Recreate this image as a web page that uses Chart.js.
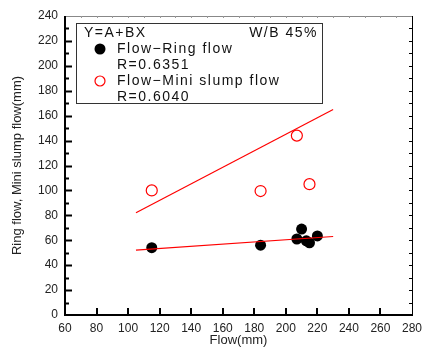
<!DOCTYPE html>
<html>
<head>
<meta charset="utf-8">
<script src="https://cdn.jsdelivr.net/npm/chart.js@4.4.1/dist/chart.umd.min.js"></script>
<style>
  html, body { margin: 0; padding: 0; background: #fff; }
  #wrap { width: 422px; height: 354px; }
</style>
</head>
<body>
<div id="wrap"><canvas id="flowChart" width="422" height="354"></canvas></div>
<script>
// Data
const ringFlowX = [115, 184, 207, 210, 213, 215, 220];
const ringFlowY = [54, 56, 61, 69, 59.5, 58, 63.5];
const miniSlumpX = [115, 184, 207, 215];
const miniSlumpY = [100, 99.5, 144, 105];
const fitX = [105, 230];
const fitRing = [52, 63];
const fitMini = [82, 165];
const xTicks = [60, 80, 100, 120, 140, 160, 180, 200, 220, 240, 260, 280];
const yTicks = [0, 20, 40, 60, 80, 100, 120, 140, 160, 180, 200, 220, 240];

const toPts = (xs, ys) => xs.map((x, i) => ({ x: x, y: ys[i] }));
const FONT = '"Liberation Sans", Arial, sans-serif';

// Frame, inward ticks and the boxed legend
const framePlugin = {
    id: 'frame',
    afterDatasetsDraw(chart) {
        const { ctx, chartArea: a, scales: { x, y } } = chart;
        ctx.save();
        ctx.lineCap = 'butt';

        // top + right border
        ctx.strokeStyle = '#888';
        ctx.lineWidth = 1;
        ctx.beginPath();
        ctx.moveTo(a.left, a.top + 0.5);
        ctx.lineTo(a.right, a.top + 0.5);
        ctx.stroke();
        ctx.strokeStyle = '#000';
        ctx.beginPath();
        ctx.moveTo(a.right + 0.5, a.top);
        ctx.lineTo(a.right + 0.5, a.bottom);
        ctx.stroke();

        // small ticks on top and right
        ctx.strokeStyle = '#999';
        for (let v = 70; v < 280; v += 10) {
            const px = Math.round(x.getPixelForValue(v)) + 0.5;
            ctx.beginPath();
            ctx.moveTo(px, a.top);
            ctx.lineTo(px, a.top + 2);
            ctx.stroke();
        }
        ctx.strokeStyle = '#000';
        for (let v = 10; v < 240; v += 10) {
            const py = Math.round(y.getPixelForValue(v)) + 0.5;
            ctx.beginPath();
            ctx.moveTo(a.right, py);
            ctx.lineTo(a.right - 3, py);
            ctx.stroke();
        }

        // left + bottom axes
        ctx.lineWidth = 2;
        ctx.beginPath();
        ctx.moveTo(a.left, a.top);
        ctx.lineTo(a.left, a.bottom);
        ctx.lineTo(a.right + 1, a.bottom);
        ctx.stroke();

        // inward ticks
        for (let v = 10; v < 240; v += 10) {
            const py = Math.round(y.getPixelForValue(v)) + 0.5;
            const len = v % 20 === 0 ? 7 : 4;
            ctx.beginPath();
            ctx.moveTo(a.left, py);
            ctx.lineTo(a.left + len, py);
            ctx.stroke();
        }
        xTicks.slice(1, -1).forEach(v => {
            const px = Math.round(x.getPixelForValue(v));
            ctx.beginPath();
            ctx.moveTo(px, a.bottom);
            ctx.lineTo(px, a.bottom - 7);
            ctx.stroke();
        });

        // legend box
        ctx.lineWidth = 1;
        ctx.strokeStyle = '#333';
        ctx.strokeRect(76.5, 23.5, 246, 80);
        ctx.fillStyle = '#111';
        ctx.font = '14px ' + FONT;
        ctx.letterSpacing = '1.5px';
        ctx.textBaseline = 'middle';
        ctx.textAlign = 'left';
        ctx.fillText('Y=A+BX', 84, 33);
        ctx.textAlign = 'right';
        ctx.fillText('W/B 45%', 318, 33);
        ctx.textAlign = 'left';
        ctx.fillText('Flow\u2212Ring flow', 117, 49);
        ctx.fillText('R=0.6351', 117, 65);
        ctx.fillText('Flow\u2212Mini slump flow', 117, 81);
        ctx.fillText('R=0.6040', 117, 97);
        ctx.letterSpacing = '0px';

        ctx.beginPath();
        ctx.arc(100, 49, 5.5, 0, Math.PI * 2);
        ctx.fillStyle = '#000';
        ctx.fill();
        ctx.beginPath();
        ctx.arc(100, 81, 5, 0, Math.PI * 2);
        ctx.strokeStyle = '#f00';
        ctx.lineWidth = 1.2;
        ctx.stroke();
        ctx.restore();
    }
};

new Chart(document.getElementById('flowChart'), {
    type: 'scatter',
    data: {
        datasets: [
            {
                label: 'fit ring',
                data: toPts(fitX, fitRing),
                showLine: true,
                borderColor: '#f00',
                borderWidth: 1.2,
                pointRadius: 0
            },
            {
                label: 'fit mini',
                data: toPts(fitX, fitMini),
                showLine: true,
                borderColor: '#f00',
                borderWidth: 1.2,
                pointRadius: 0
            },
            {
                label: 'Flow-Ring flow',
                data: toPts(ringFlowX, ringFlowY),
                backgroundColor: '#000',
                borderColor: '#000',
                borderWidth: 0,
                pointRadius: 5.5
            },
            {
                label: 'Flow-Mini slump flow',
                data: toPts(miniSlumpX, miniSlumpY),
                backgroundColor: 'rgba(255,255,255,0)',
                borderColor: '#f00',
                borderWidth: 1.2,
                pointRadius: 5.5
            }
        ]
    },
    options: {
        responsive: false,
        animation: false,
        layout: { padding: { left: 0, right: 10, top: 16, bottom: 0 } },
        plugins: { legend: { display: false }, tooltip: { enabled: false } },
        scales: {
            x: {
                type: 'linear',
                min: 60, max: 280,
                afterBuildTicks: s => { s.ticks = xTicks.map(v => ({ value: v })); },
                afterFit: s => { s.height = 39; s.paddingLeft = 0; s.paddingRight = 0; },
                grid: { display: false, drawTicks: false },
                border: { display: false },
                ticks: { color: '#222', padding: 6, font: { family: FONT, size: 12 } },
                title: {
                    display: true, text: 'Flow(mm)', color: '#222',
                    font: { family: FONT, size: 13 }, padding: { top: 0, bottom: 6 }
                }
            },
            y: {
                min: 0, max: 240,
                afterBuildTicks: s => { s.ticks = yTicks.map(v => ({ value: v })); },
                afterFit: s => { s.width = 65; s.paddingTop = 0; s.paddingBottom = 0; },
                grid: { display: false, drawTicks: false },
                border: { display: false },
                ticks: { color: '#222', padding: 7, font: { family: FONT, size: 12 } },
                title: {
                    display: true, text: 'Ring flow, Mini slump flow(mm)', color: '#222',
                    font: { family: FONT, size: 13 }, padding: { top: 10, bottom: 0 }
                }
            }
        }
    },
    plugins: [framePlugin]
});
</script>
</body>
</html>
